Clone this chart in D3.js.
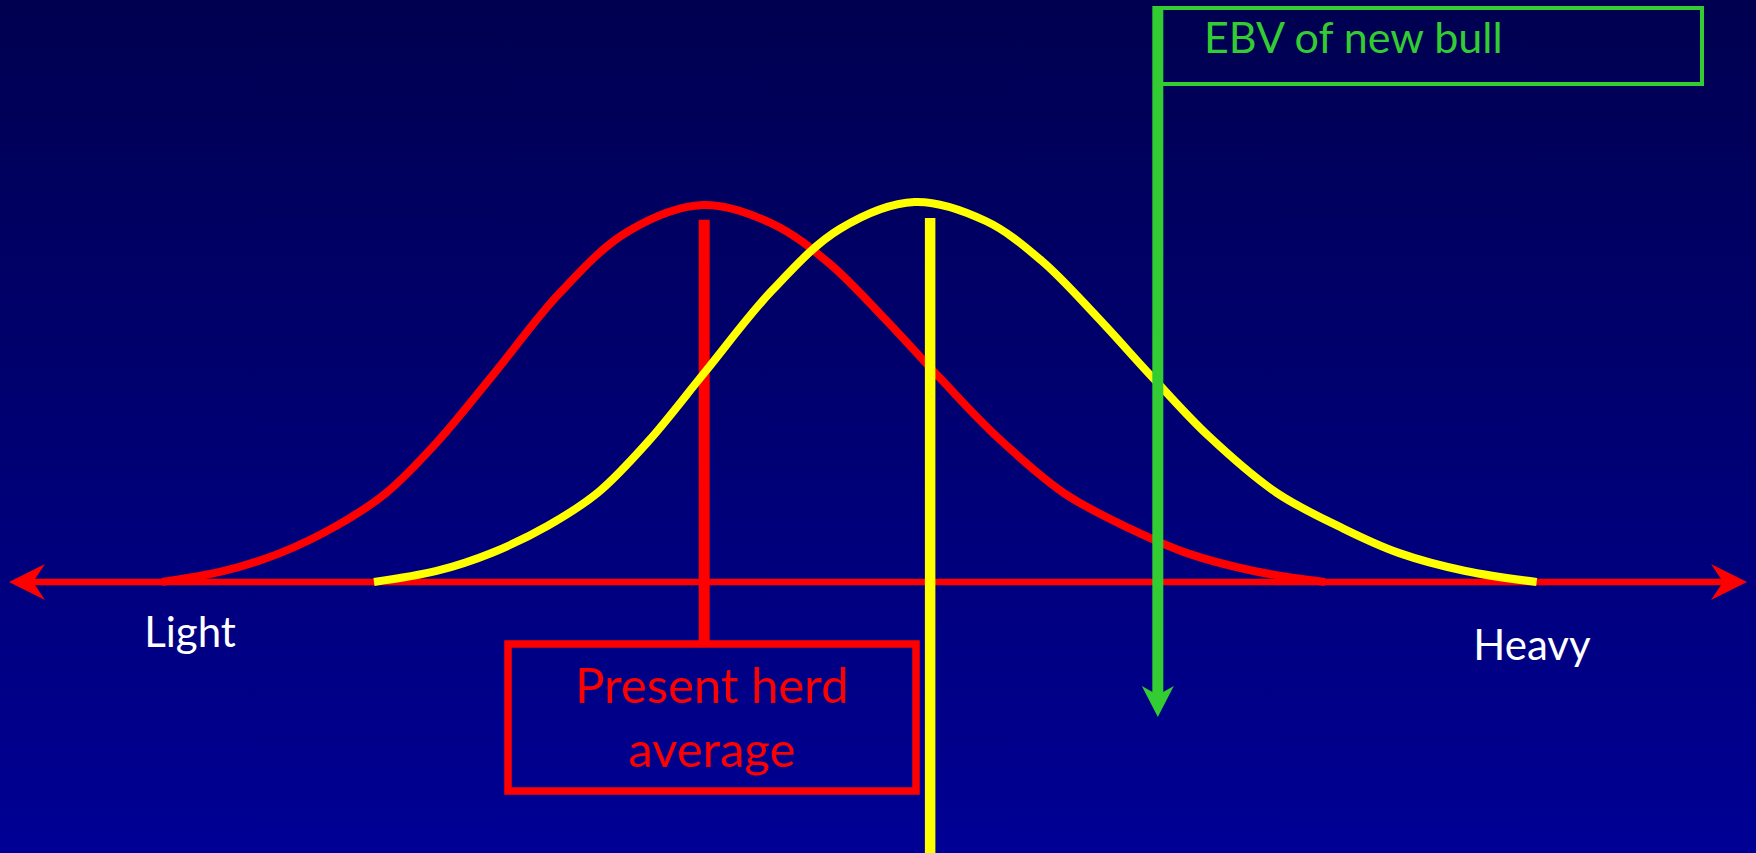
<!DOCTYPE html>
<html>
<head>
<meta charset="utf-8">
<script src="https://cdn.jsdelivr.net/npm/d3@7"></script>
<style>
  html, body { margin: 0; padding: 0; overflow: hidden; }
  svg { display: block; }
</style>
</head>
<body>
<div id="chart"></div>
<script>
// slide: herd distribution vs. offspring distribution after using a new bull

// liveweight (arbitrary units, 0 = Light end, 100 = Heavy end) vs relative frequency
const herdWeight = [8.8, 12.37, 15.59, 18.81, 21.69, 24.63, 27.85, 31.7, 35.56, 39.93, 43.96, 47.18, 50.4, 53.62, 56.85, 60.7, 64.56, 67.78, 71.63, 75.72];
const herdFreq   = [0,   2.9,   7.6,   14.7,  23.4,  36.8,  54.5,  76.1, 92.1,  99.2,  94.2,  83.9,  69.2, 53.4,  38.2,  23.4, 13.9,  7.6,   2.9,   0];

const newWeight = [21.0, 24.6, 27.8, 31.0, 33.9, 36.8, 40.0, 43.9, 47.8, 52.1, 56.2, 59.4, 62.6, 65.8, 69.0, 72.9, 76.8, 80.0, 83.8, 87.9];
const newFreq   = [0,    2.9,  7.7,  14.8, 23.6, 37.1, 55.0, 76.7, 92.9, 100,  95.0, 84.6, 69.8, 53.8, 38.5, 23.6, 14.0, 7.6,  2.9,  0];

const herdMean = 40.0;
const newMean = 53.0;
const bullEBV = 66.1;

const axisLabels = ["Light", "Heavy"];
const herdLabel = ["Present herd", "average"];
const bullLabel = "EBV of new bull";

const width = 1756, height = 853;
const RED = "#FF0000", YELLOW = "#FFFF00", GREEN = "#33CC33";

const herd = herdWeight.map((w, i) => ({ w: w, f: herdFreq[i] }));
const offspring = newWeight.map((w, i) => ({ w: w, f: newFreq[i] }));

const x = d3.scaleLinear().domain([0, 100]).range([9, 1747]);
const y = d3.scaleLinear().domain([0, 100]).range([582, 202]);

const svg = d3.select("#chart")
    .append("svg")
    .attr("width", width)
    .attr("height", height);

// background gradient
const grad = svg.append("defs").append("linearGradient")
    .attr("id", "bg")
    .attr("x1", 0).attr("y1", 0).attr("x2", 0).attr("y2", 1);
grad.append("stop").attr("offset", "0%").attr("stop-color", "#000050");
grad.append("stop").attr("offset", "100%").attr("stop-color", "#000094");

svg.append("rect")
    .attr("width", width)
    .attr("height", height)
    .attr("fill", "url(#bg)");

// weight axis with arrows at both ends
const axisY = y(0);
svg.append("line")
    .attr("x1", x(0) + 20).attr("x2", x(100) - 20)
    .attr("y1", axisY).attr("y2", axisY)
    .attr("stroke", RED)
    .attr("stroke-width", 6.5);

function arrowHead(tipX, tipY, dir, len, half, notch, color, vertical) {
    // dir: +1 points right/down, -1 points left/up
    let pts;
    if (!vertical) {
        pts = [[tipX, tipY], [tipX - dir * len, tipY - half], [tipX - dir * notch, tipY], [tipX - dir * len, tipY + half]];
    } else {
        pts = [[tipX, tipY], [tipX - half, tipY - dir * len], [tipX, tipY - dir * notch], [tipX + half, tipY - dir * len]];
    }
    svg.append("path")
        .attr("d", d3.line()(pts) + "Z")
        .attr("fill", color);
}
arrowHead(x(0), axisY, -1, 36, 18, 24, RED, false);
arrowHead(x(100), axisY, 1, 36, 18, 24, RED, false);

// axis end labels
const labelFont = "Lato, 'Open Sans', sans-serif";
svg.append("text")
    .attr("x", 190).attr("y", 647)
    .attr("text-anchor", "middle")
    .attr("font-family", labelFont)
    .attr("font-size", "42px")
    .attr("fill", "white")
    .text(axisLabels[0]);
svg.append("text")
    .attr("x", 1532).attr("y", 660)
    .attr("text-anchor", "middle")
    .attr("font-family", labelFont)
    .attr("font-size", "42px")
    .attr("fill", "white")
    .text(axisLabels[1]);

const curve = d3.line()
    .x(d => x(d.w))
    .y(d => y(d.f))
    .curve(d3.curveCatmullRom.alpha(0.5));

// present herd distribution
svg.append("path")
    .datum(herd)
    .attr("d", curve)
    .attr("fill", "none")
    .attr("stroke", RED)
    .attr("stroke-width", 8);

// herd mean line down to its label box
svg.append("line")
    .attr("x1", x(herdMean)).attr("x2", x(herdMean))
    .attr("y1", y(95.3)).attr("y2", 644)
    .attr("stroke", RED)
    .attr("stroke-width", 11);

svg.append("rect")
    .attr("x", 508).attr("y", 644)
    .attr("width", 408).attr("height", 147)
    .attr("fill", "none")
    .attr("stroke", RED)
    .attr("stroke-width", 7.5);

svg.append("text")
    .attr("x", 712).attr("y", 703)
    .attr("text-anchor", "middle")
    .attr("font-family", labelFont)
    .attr("font-size", "49px")
    .attr("fill", RED)
    .text(herdLabel[0]);
svg.append("text")
    .attr("x", 712).attr("y", 767)
    .attr("text-anchor", "middle")
    .attr("font-family", labelFont)
    .attr("font-size", "49px")
    .attr("fill", RED)
    .text(herdLabel[1]);

// offspring distribution
svg.append("path")
    .datum(offspring)
    .attr("d", curve)
    .attr("fill", "none")
    .attr("stroke", YELLOW)
    .attr("stroke-width", 8);

svg.append("line")
    .attr("x1", x(newMean)).attr("x2", x(newMean))
    .attr("y1", y(95.8)).attr("y2", height)
    .attr("stroke", YELLOW)
    .attr("stroke-width", 10.5);

// EBV of new bull: box + arrow
svg.append("rect")
    .attr("x", x(bullEBV)).attr("y", 8)
    .attr("width", 1702 - x(bullEBV)).attr("height", 76)
    .attr("fill", "none")
    .attr("stroke", GREEN)
    .attr("stroke-width", 4);

svg.append("line")
    .attr("x1", x(bullEBV)).attr("x2", x(bullEBV))
    .attr("y1", 6).attr("y2", 696)
    .attr("stroke", GREEN)
    .attr("stroke-width", 11);
arrowHead(x(bullEBV), 717, 1, 31, 16, 22, GREEN, true);

svg.append("text")
    .attr("x", 1204).attr("y", 53)
    .attr("font-family", labelFont)
    .attr("font-size", "43px")
    .attr("fill", GREEN)
    .text(bullLabel);
</script>
</body>
</html>
